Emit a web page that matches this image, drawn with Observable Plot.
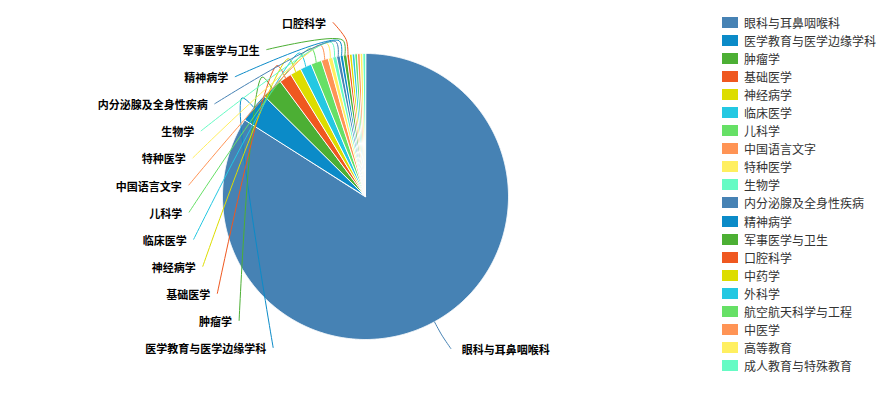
<!DOCTYPE html>
<html><head><meta charset="utf-8">
<script src="https://cdn.jsdelivr.net/npm/d3@7"></script>
<script src="https://cdn.jsdelivr.net/npm/@observablehq/plot@0.6"></script>
<style>
body{margin:0;background:#fff;}
#wrap{position:relative;width:894px;height:405px;overflow:hidden;}
#legend{position:absolute;left:722px;top:13px;font:12px "Noto Sans CJK SC","Noto Sans",sans-serif;color:#333;}
.item{display:flex;align-items:center;height:18.1px;white-space:nowrap;}
.sw{width:16px;height:11px;margin-right:6px;flex:none;}
</style></head><body>
<div id="wrap"><div id="chart"></div><div id="legend"></div></div>
<script>
const names = ["眼科与耳鼻咽喉科","医学教育与医学边缘学科","肿瘤学","基础医学","神经病学","临床医学","儿科学","中国语言文字","特种医学","生物学","内分泌腺及全身性疾病","精神病学","军事医学与卫生","口腔科学","中药学","外科学","航空航天科学与工程","中医学","高等教育","成人教育与特殊教育"];
const values = [1678,69,48,28,25,26,24,16,10,9,8,7,8,6,6,6,6,6,6,6];
const palette = ["#4682b4","#0b8bc8","#4caf34","#ef5820","#dddd00","#24c8e2","#66e066","#ff9455","#ffef60","#66fbc4"];

const W = 894, H = 405, cx = 365, cy = 196, r = 143;
const len1 = 15, labelR = 177, slotTop = 22, slotBottom = 347;
const font = '"Noto Sans CJK SC","Noto Sans",sans-serif';

const data = names.map((name, i) => ({name, value: values[i]}));
const arcs = d3.pie().sort(null).value(d => d.value)(data);
const pt = (a, rr) => ({x: cx + rr * Math.sin(a), y: cy - rr * Math.cos(a)});

// slice polygons
const slicePts = [];
arcs.forEach(a => {
  slicePts.push({name: a.data.name, ...pt(0, 0)});
  const n = Math.max(2, Math.ceil((a.endAngle - a.startAngle) / 0.005));
  for (let k = 0; k <= n; k++) {
    const ang = a.startAngle + (a.endAngle - a.startAngle) * k / n;
    slicePts.push({name: a.data.name, ...pt(ang, r)});
  }
});

// label layout
const mid = a => (a.startAngle + a.endAngle) / 2;
const leftArcs = arcs.filter(a => mid(a) > Math.PI).sort((p, q) => mid(p) - mid(q));
const rightArcs = arcs.filter(a => mid(a) <= Math.PI);
const slots = Math.floor((slotBottom - slotTop) / 27) + 1;
const spacing = (slotBottom - slotTop) / (slots - 1);
const labelLines = [], leftLabels = [], rightLabels = [];
leftArcs.slice(0, slots).forEach((a, k) => {
  const y = slotBottom - k * spacing;
  const dy = y - cy;
  const x = cx - Math.sqrt(Math.max(labelR * labelR - dy * dy, 0));
  const m = mid(a);
  labelLines.push({name: a.data.name, ...pt(m, r)}, {name: a.data.name, ...pt(m, r + len1)}, {name: a.data.name, x, y});
  leftLabels.push({name: a.data.name, x: x - 7, y: y + 2});
});
rightArcs.forEach(a => {
  const m = mid(a);
  const e = pt(m, labelR);
  labelLines.push({name: a.data.name, ...pt(m, r)}, {name: a.data.name, ...pt(m, r + len1)}, {name: a.data.name, x: e.x, y: e.y - 3});
  rightLabels.push({name: a.data.name, x: e.x + 11, y: e.y - 1});
});

const chart = Plot.plot({
  width: W, height: H, margin: 0,
  x: {domain: [0, W], range: [0, W], axis: null},
  y: {domain: [0, H], range: [0, H], axis: null},
  color: {domain: names, range: names.map((_, i) => palette[i % palette.length])},
  style: {background: "white"},
  marks: [
    Plot.line(slicePts, {x: "x", y: "y", z: "name", fill: "name", stroke: "white", strokeWidth: 1, strokeLinejoin: "round", curve: "linear-closed"}),
    Plot.line(labelLines, {x: "x", y: "y", z: "name", stroke: "name", strokeWidth: 1, curve: "catmull-rom"}),
    Plot.text(leftLabels, {x: "x", y: "y", text: "name", textAnchor: "end", fontSize: 11, fill: "#000", fontFamily: font, fontWeight: "bold"}),
    Plot.text(rightLabels, {x: "x", y: "y", text: "name", textAnchor: "start", fontSize: 11, fill: "#000", fontFamily: font, fontWeight: "bold"})
  ]
});
document.getElementById("chart").append(chart);

const legend = document.getElementById("legend");
names.forEach((n, i) => {
  const row = document.createElement("div");
  row.className = "item";
  const sw = document.createElement("span");
  sw.className = "sw";
  sw.style.background = palette[i % palette.length];
  const t = document.createElement("span");
  t.textContent = n;
  row.append(sw, t);
  legend.append(row);
});
</script>
</body></html>
